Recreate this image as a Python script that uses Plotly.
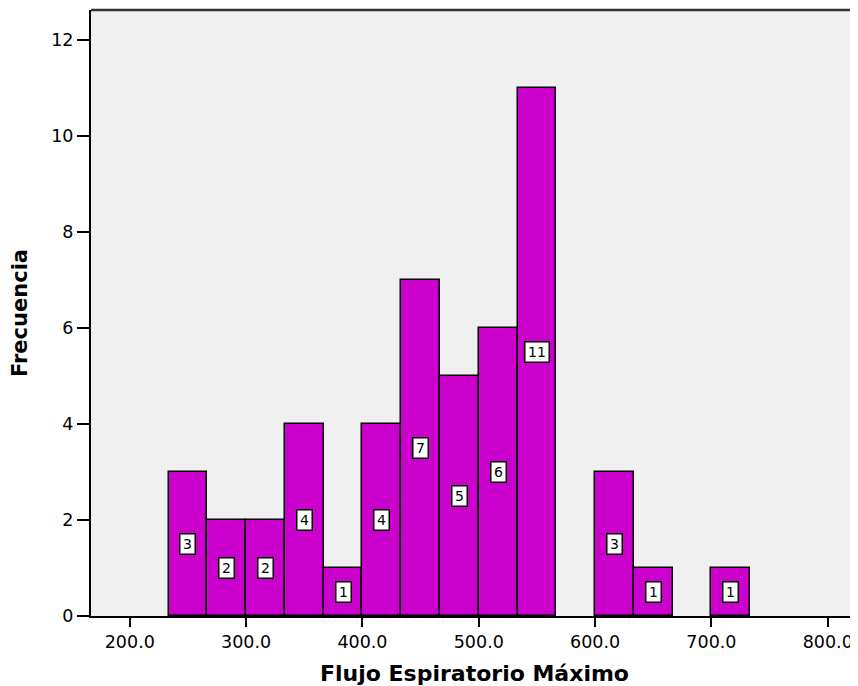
import plotly.graph_objects as go

# histograma de Flujo Espiratorio Máximo (ancho de clase 33.3)
bin_start = 233.333
bin_width = 100 / 3
counts = [3, 2, 2, 4, 1, 4, 7, 5, 6, 11, 0, 3, 1, 0, 1]
x_ticks = [200, 300, 400, 500, 600, 700, 800]
x_tick_labels = ["200.0", "300.0", "400.0", "500.0", "600.0", "700.0", "800.0"]
y_ticks = [0, 2, 4, 6, 8, 10, 12]

centers = [bin_start + bin_width * (i + 0.5) for i in range(len(counts))]
# las clases vacías no se dibujan
xs = [xc for xc, c in zip(centers, counts) if c > 0]
ys = [c for c in counts if c > 0]

fig = go.Figure()
fig.add_trace(
    go.Bar(
        x=xs,
        y=ys,
        width=bin_width,
        marker=dict(color="#cc00cc", line=dict(color="black", width=1.5)),
        hoverinfo="x+y",
    )
)

# etiquetas con el recuento en el centro de cada barra
for xc, c in zip(xs, ys):
    txt = str(c)
    fig.add_annotation(
        x=xc, y=c / 2, text=txt, showarrow=False,
        font=dict(family="DejaVu Sans", size=14, color="black"),
        width=9 * len(txt) + 1, height=15,
        bgcolor="white", bordercolor="black", borderwidth=1.5, borderpad=2,
    )

# borde superior del área del gráfico
fig.add_shape(
    type="line", xref="paper", yref="paper", x0=0, x1=1, y0=1, y1=1,
    line=dict(color="#333333", width=2.5),
)

fig.update_layout(
    width=850,
    height=678,
    margin=dict(l=83, r=0, t=2, b=70),
    paper_bgcolor="white",
    plot_bgcolor="#f0f0f0",
    showlegend=False,
    bargap=0,
    font=dict(family="DejaVu Sans", color="black"),
)

fig.update_xaxes(
    range=[166.667, 826],
    tickvals=x_ticks,
    ticktext=x_tick_labels,
    ticks="outside", ticklen=9, tickwidth=2, tickcolor="black",
    tickfont=dict(size=17.5),
    showline=True, linecolor="black", linewidth=2,
    showgrid=False, zeroline=False,
    title=dict(text="<b>Flujo Espiratorio Máximo</b>", font=dict(size=22), standoff=16),
)
fig.update_yaxes(
    range=[0, 12.63],
    tickvals=y_ticks,
    ticks="outside", ticklen=12, tickwidth=2, tickcolor="black",
    tickfont=dict(size=17.5),
    showline=True, linecolor="black", linewidth=2,
    showgrid=False, zeroline=False,
    title=dict(text="<b>Frecuencia</b>", font=dict(size=21), standoff=20),
)

fig.write_html("out.html")
